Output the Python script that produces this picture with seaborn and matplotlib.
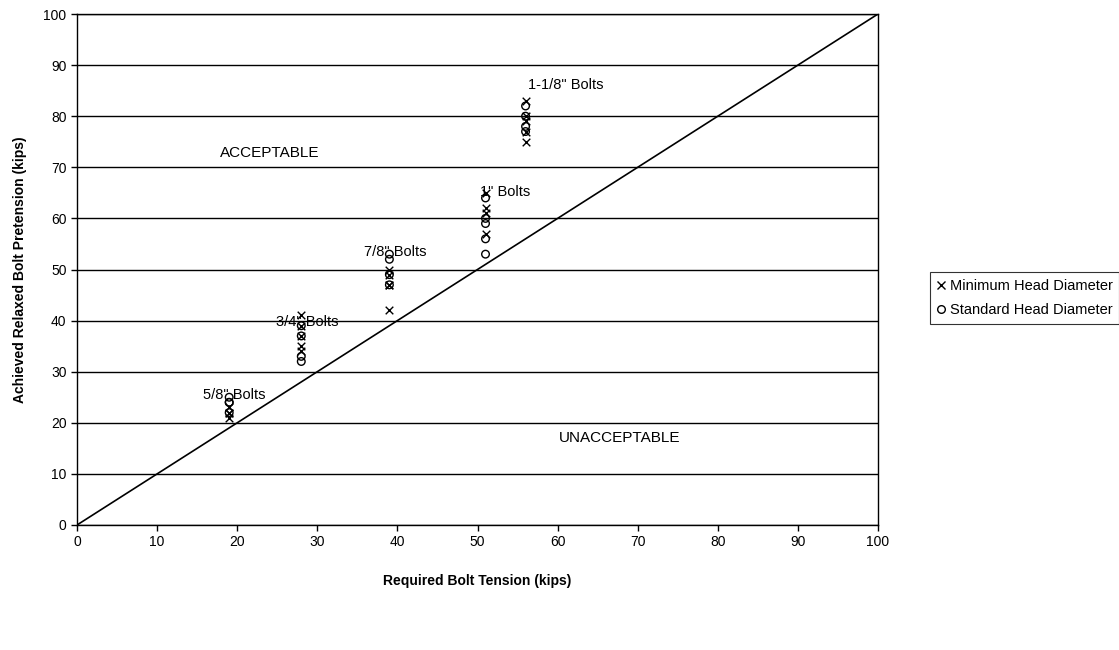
import matplotlib
matplotlib.use("Agg")
import matplotlib.pyplot as plt
import seaborn as sns
import pandas as pd
from matplotlib.lines import Line2D

# Data
min_x = [19, 19, 19, 19, 28, 28, 28, 28, 28, 39, 39, 39, 39, 39, 51, 51, 51, 51, 56, 56, 56, 56, 56]
min_y = [21, 22, 22, 23, 41, 39, 37, 35, 34, 50, 49, 47, 47, 42, 65, 62, 61, 57, 83, 80, 79, 77, 75]
std_x = [19, 19, 19, 19, 28, 28, 28, 28, 39, 39, 39, 39, 51, 51, 51, 51, 51, 56, 56, 56, 56]
std_y = [22, 24, 24, 25, 39, 37, 33, 32, 53, 52, 49, 47, 64, 60, 59, 56, 53, 82, 80, 78, 77]
ref_line = [0, 100]
labels = ["1-1/8\" Bolts", "1\" Bolts", "7/8\" Bolts", "3/4\" Bolts", "5/8\" Bolts", "ACCEPTABLE", "UNACCEPTABLE"]
label_x = [61.0, 53.4, 39.7, 28.7, 19.6, 24.1, 67.8]
label_y = [86.1, 65.2, 53.4, 39.7, 25.4, 72.8, 17.0]
ticks = list(range(0, 101, 10))

sns.set_style("white")
plt.rcParams['font.family'] = ['Liberation Sans', 'DejaVu Sans']
plt.rcParams['text.color'] = 'black'
plt.rcParams['axes.labelcolor'] = 'black'
plt.rcParams['xtick.color'] = 'black'
plt.rcParams['ytick.color'] = 'black'

fig = plt.figure(figsize=(11.19, 6.5), dpi=100)
ax = fig.add_axes([77/1119, 1-525/650, (878-77)/1119, (525-14)/650])

ax.set_axisbelow(True)
ax.yaxis.grid(True, color='black', linewidth=1)
ax.xaxis.grid(False)

ax.plot(ref_line, ref_line, color='black', linewidth=1.2, zorder=2)

df_min = pd.DataFrame({"x": min_x, "y": min_y})
df_std = pd.DataFrame({"x": std_x, "y": std_y})
sns.scatterplot(data=df_min, x="x", y="y", marker='x', color='black', s=30, linewidth=1, ax=ax, zorder=3)
sns.scatterplot(data=df_std, x="x", y="y", marker='o', facecolors='none', edgecolor='black', s=30, linewidth=1, ax=ax, zorder=3)

for t, xx, yy in zip(labels, label_x, label_y):
    ax.text(xx, yy, t, ha='center', va='center', color='black',
            fontsize=11 if t in ("ACCEPTABLE", "UNACCEPTABLE") else 10.5)

ax.set_xlim(0, 100)
ax.set_ylim(0, 100)
ax.set_xticks(ticks)
ax.set_yticks(ticks)
ax.tick_params(axis='both', labelsize=10, length=4, width=1, direction='out', color='black',
               labelcolor='black', bottom=True, left=True)
for sp in ax.spines.values():
    sp.set_color('black')
    sp.set_linewidth(1)

ax.set_xlabel("Required Bolt Tension (kips)", fontsize=10, fontweight='bold', labelpad=18, color='black')
ax.set_ylabel("Achieved Relaxed Bolt Pretension (kips)", fontsize=10, fontweight='bold', labelpad=12, color='black')

handles = [Line2D([], [], marker='x', color='black', linestyle='none', markersize=6),
           Line2D([], [], marker='o', markerfacecolor='none', markeredgecolor='black', linestyle='none', markersize=5.5)]
leg = fig.legend(handles, ["Minimum Head Diameter", "Standard Head Diameter"], loc='center left',
                 bbox_to_anchor=(930/1119, 1-298/650), frameon=True, fontsize=10.5,
                 handlelength=0.6, handletextpad=0.3, borderpad=0.45, labelspacing=0.7,
                 fancybox=False, borderaxespad=0)
leg.get_frame().set_edgecolor('black')
leg.get_frame().set_linewidth(0.8)

fig.savefig("out.png", dpi=100)
